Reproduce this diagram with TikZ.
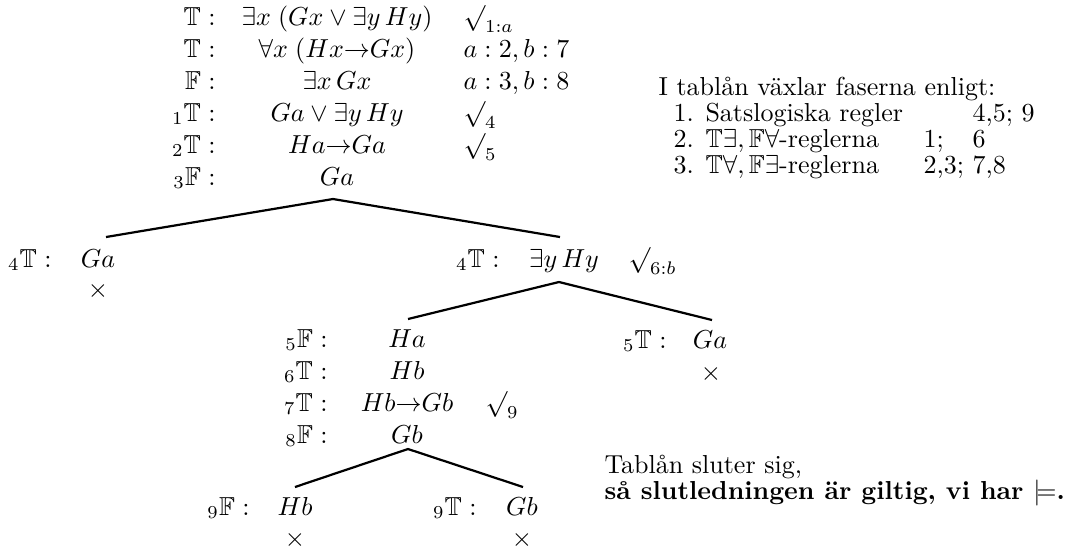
\documentclass[tikz,border=0pt]{standalone}
\usepackage{amssymb}
\begin{document}
\begin{tikzpicture}[x=0.3846pt,y=-0.3846pt,
  lab/.style={anchor=base east,inner sep=0pt},
  fm/.style={anchor=base,inner sep=0pt},
  just/.style={anchor=base west,inner sep=0pt},
  txt/.style={anchor=base west,inner sep=0pt},
  br/.style={line width=0.85pt}]
\useasboundingbox (0,0) rectangle (1066,549);
% top block
\node[lab] (l1) at (216,25) {$\mathbb{T}:$};
\node[lab] (l2) at (216,57) {$\mathbb{T}:$};
\node[lab] (l3) at (216,89) {$\mathbb{F}:$};
\node[lab] (l4) at (216,121) {${}_1\mathbb{T}:$};
\node[lab] (l5) at (216,153) {${}_2\mathbb{T}:$};
\node[lab] (l6) at (216,185) {${}_3\mathbb{F}:$};
\node[fm] (f1) at (337,25) {$\exists x\;(Gx\vee\exists y\,Hy)$};
\node[fm] (f2) at (337,57) {$\forall x\;(Hx{\rightarrow}Gx)$};
\node[fm] (f3) at (337,89) {$\exists x\,Gx$};
\node[fm] (f4) at (337,121) {$Ga\vee\exists y\,Hy$};
\node[fm] (f5) at (337,153) {$Ha{\rightarrow}Ga$};
\node[fm] (f6) at (337,185) {$Ga$};
\node[just] (j1) at (463,25) {$\surd_{1:a}$};
\node[just] (j2) at (463,57) {$a:2,b:7$};
\node[just] (j3) at (463,89) {$a:3,b:8$};
\node[just] (j4) at (463,121) {$\surd_4$};
\node[just] (j5) at (463,153) {$\surd_5$};
% first split
\coordinate (t0) at (333,199);
\coordinate (t1) at (106,237);
\coordinate (t2) at (560,237);
\draw[br] (t1) -- (t0) -- (t2);
% left branch
\node[lab] (l7) at (52,267) {${}_4\mathbb{T}:$};
\node[fm] (f7) at (98,267) {$Ga$};
\node[fm] (x1) at (98,297) {$\times$};
% right branch
\node[lab] (l8) at (500,267) {${}_4\mathbb{T}:$};
\node[fm] (f8) at (564,267) {$\exists y\,Hy$};
\node[just] (j8) at (628,267) {$\surd_{6:b}$};
\coordinate (u0) at (559,282);
\coordinate (u1) at (408,319);
\coordinate (u2) at (712,320);
\draw[br] (u1) -- (u0) -- (u2);
% left sub-branch
\node[lab] (l9) at (328,347) {${}_5\mathbb{F}:$};
\node[lab] (l10) at (328,379) {${}_6\mathbb{T}:$};
\node[lab] (l11) at (328,411) {${}_7\mathbb{T}:$};
\node[lab] (l12) at (328,443) {${}_8\mathbb{F}:$};
\node[fm] (f9) at (407,347) {$Ha$};
\node[fm] (f10) at (407,379) {$Hb$};
\node[fm] (f11) at (407,411) {$Hb{\rightarrow}Gb$};
\node[fm] (f12) at (407,443) {$Gb$};
\node[just] (j11) at (485,411) {$\surd_9$};
\coordinate (v0) at (408,449);
\coordinate (v1) at (295,487);
\coordinate (v2) at (523,487);
\draw[br] (v1) -- (v0) -- (v2);
\node[lab] (l13) at (250,515) {${}_9\mathbb{F}:$};
\node[fm] (f13) at (295,515) {$Hb$};
\node[fm] (x2) at (295,546) {$\times$};
\node[lab] (l14) at (477,515) {${}_9\mathbb{T}:$};
\node[fm] (f14) at (522,515) {$Gb$};
\node[fm] (x3) at (522,546) {$\times$};
% right sub-branch
\node[lab] (l15) at (667,348) {${}_5\mathbb{T}:$};
\node[fm] (f15) at (710,348) {$Ga$};
\node[fm] (x4) at (711,380) {$\times$};
% right text
\node[txt] (h0) at (658,95) {I tablån växlar faserna enligt:};
\node[txt] (n1) at (673,121) {1.};
\node[txt] (n2) at (673,147) {2.};
\node[txt] (n3) at (673,173) {3.};
\node[txt] (h1) at (705,121) {Satslogiska regler};
\node[txt] (h2) at (705,147) {$\mathbb{T}\exists,\mathbb{F}\forall$-reglerna};
\node[txt] (h3) at (705,173) {$\mathbb{T}\forall,\mathbb{F}\exists$-reglerna};
\node[txt] (c1) at (972,121) {4,5;\ 9};
\node[txt] (c2a) at (923,147) {1;};
\node[txt] (c2b) at (972,147) {6};
\node[txt] (c3a) at (923,173) {2,3;};
\node[txt] (c3b) at (972,173) {7,8};
\node[txt] (e1) at (604,473) {Tablån sluter sig,};
\node[txt] (e2) at (604,499) {\bfseries så slutledningen är giltig, vi har $\models$.};
\end{tikzpicture}
\end{document}
